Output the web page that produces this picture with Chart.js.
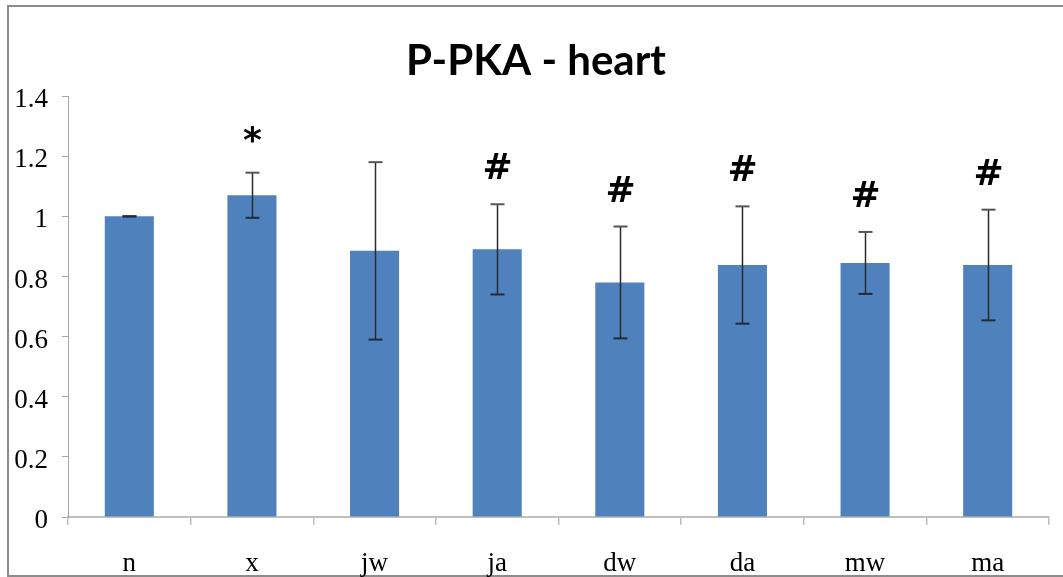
<!DOCTYPE html>
<html>
<head>
<meta charset="utf-8">
<script src="https://cdn.jsdelivr.net/npm/chart.js@4/dist/chart.umd.min.js"></script>
<style>
  html, body { margin: 0; padding: 0; background: #fff; }
  #wrap { width: 1063px; height: 577px; position: relative; }
</style>
</head>
<body>
<div id="wrap"><canvas id="c" width="1063" height="577"></canvas></div>
<script>
// Groups, mean relative P-PKA level and error (±)
const groups = ['n', 'x', 'jw', 'ja', 'dw', 'da', 'mw', 'ma'];
const means  = [1.00, 1.07, 0.885, 0.89, 0.78, 0.838, 0.845, 0.838];
const errors = [0.001, 0.075, 0.295, 0.15, 0.186, 0.195, 0.103, 0.184];
// Significance symbols over each group
const marks  = ['', '*', '', '#', '#', '#', '#', '#'];
// Y axis ticks
const yTicks = [0, 0.2, 0.4, 0.6, 0.8, 1, 1.2, 1.4];
const chartTitle = 'P-PKA - heart';

const BAR = '#4F81BD';
const AXIS = '#BFBFBF';
const tickFont = { family: '"Liberation Serif", "Times New Roman", serif', size: 27 };

// Outer frame and the heading, centred within the frame
const framePlugin = {
  id: 'frame',
  beforeDraw(chart) {
    const ctx = chart.ctx;
    ctx.save();
    ctx.fillStyle = '#fff';
    ctx.fillRect(0, 0, chart.width, chart.height);
    ctx.strokeStyle = '#8C8C8C';
    ctx.lineWidth = 2;
    ctx.beginPath();
    ctx.moveTo(chart.width + 5, 6);
    ctx.lineTo(8, 6);
    ctx.lineTo(8, 576);
    ctx.lineTo(chart.width + 5, 576);
    ctx.stroke();

    ctx.fillStyle = '#000';
    ctx.font = 'bold 42px Lato, "Open Sans", sans-serif';
    ctx.textAlign = 'center';
    ctx.textBaseline = 'alphabetic';
    ctx.fillText(chartTitle, 536, 75);
    ctx.restore();
  }
};

// Error bars and significance symbols
const errorPlugin = {
  id: 'errorBars',
  afterDatasetsDraw(chart) {
    const ctx = chart.ctx;
    const y = chart.scales.y;
    const meta = chart.getDatasetMeta(0);
    ctx.save();
    meta.data.forEach((bar, i) => {
      const x = Math.round(bar.x) + 0.5;
      const hi = y.getPixelForValue(means[i] + errors[i]);
      const lo = y.getPixelForValue(means[i] - errors[i]);
      ctx.strokeStyle = '#2b2b2b';
      ctx.lineWidth = 1.5;
      ctx.beginPath();
      ctx.moveTo(x, hi); ctx.lineTo(x, lo);
      ctx.stroke();
      ctx.strokeStyle = '#555';
      ctx.lineWidth = 2;
      ctx.beginPath();
      ctx.moveTo(x - 7, hi); ctx.lineTo(x + 7, hi);
      ctx.stroke();
      ctx.strokeStyle = '#1f2a3a';
      ctx.beginPath();
      ctx.moveTo(x - 7, lo); ctx.lineTo(x + 7, lo);
      ctx.stroke();

      const m = marks[i];
      if (m) {
        ctx.fillStyle = '#000';
        ctx.font = 'bold 36px "DejaVu Sans", sans-serif';
        ctx.textAlign = 'center';
        ctx.textBaseline = 'alphabetic';
        const tm = ctx.measureText(m);
        const cy = hi - 38;
        const base = cy + (tm.actualBoundingBoxAscent - tm.actualBoundingBoxDescent) / 2;
        ctx.fillText(m, x, base);
      }
    });
    ctx.restore();
  }
};

new Chart(document.getElementById('c'), {
  type: 'bar',
  data: {
    labels: groups,
    datasets: [{
      data: means,
      backgroundColor: BAR,
      borderWidth: 0,
      barPercentage: 0.4,
      categoryPercentage: 1.0
    }]
  },
  options: {
    responsive: false,
    animation: false,
    devicePixelRatio: 1,
    layout: { padding: { left: 0, right: 14, top: 96, bottom: 0 } },
    plugins: {
      legend: { display: false },
      tooltip: { enabled: false },
      title: { display: false }
    },
    scales: {
      x: {
        offset: true,
        grid: { display: true, drawOnChartArea: false, drawTicks: true, tickLength: 8, offset: true, color: AXIS, lineWidth: 1.5 },
        border: { display: true, color: AXIS, width: 2 },
        ticks: { color: '#000', font: tickFont, padding: 23, maxRotation: 0 },
        afterFit(scale) { scale.height = 60; }
      },
      y: {
        min: 0,
        max: 1.4,
        afterBuildTicks(scale) { scale.ticks = yTicks.map(v => ({ value: v })); },
        grid: { display: true, drawOnChartArea: false, drawTicks: true, tickLength: 6, color: '#A6A6A6', lineWidth: 1 },
        border: { display: true, color: '#A6A6A6', width: 1 },
        ticks: { color: '#000', font: tickFont, padding: 14, labelOffset: 4, callback: v => String(v) },
        afterFit(scale) { scale.width = 68; }
      }
    }
  },
  plugins: [framePlugin, errorPlugin]
});
</script>
</body>
</html>
